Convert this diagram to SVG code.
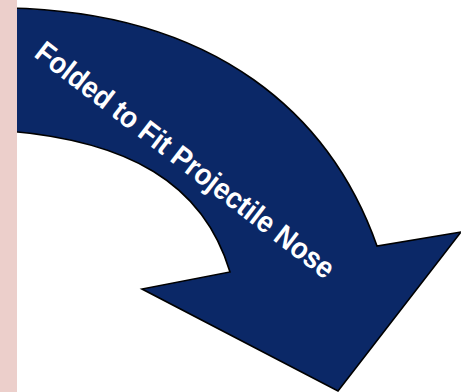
<svg xmlns="http://www.w3.org/2000/svg" width="461" height="392" viewBox="0 0 461 392">
  <defs>
    <style>
      .arrow { fill: #0b2867; stroke: #000; stroke-width: 1.6; stroke-linejoin: miter; }
      .label { fill: #ffffff; font-family: "Liberation Sans", Arial, sans-serif; font-weight: bold; font-size: 30px; }
    </style>
  </defs>
  <rect x="0" y="0" width="461" height="392" fill="#ffffff"/>
  <g id="arrow">
    <path class="arrow" d="M8,8 C217,12 331,116 377,246 L461,232 L338,391 L142,289 L230,272 C203,182 127,141 8,131 Z"/>
    <text class="label" x="0" y="0" transform="translate(33,56) rotate(37.5)" textLength="368" lengthAdjust="spacingAndGlyphs">Folded to Fit Projectile Nose</text>
  </g>
  <rect id="strip" x="0" y="0" width="17" height="392" fill="#eccfcb"/>
</svg>
